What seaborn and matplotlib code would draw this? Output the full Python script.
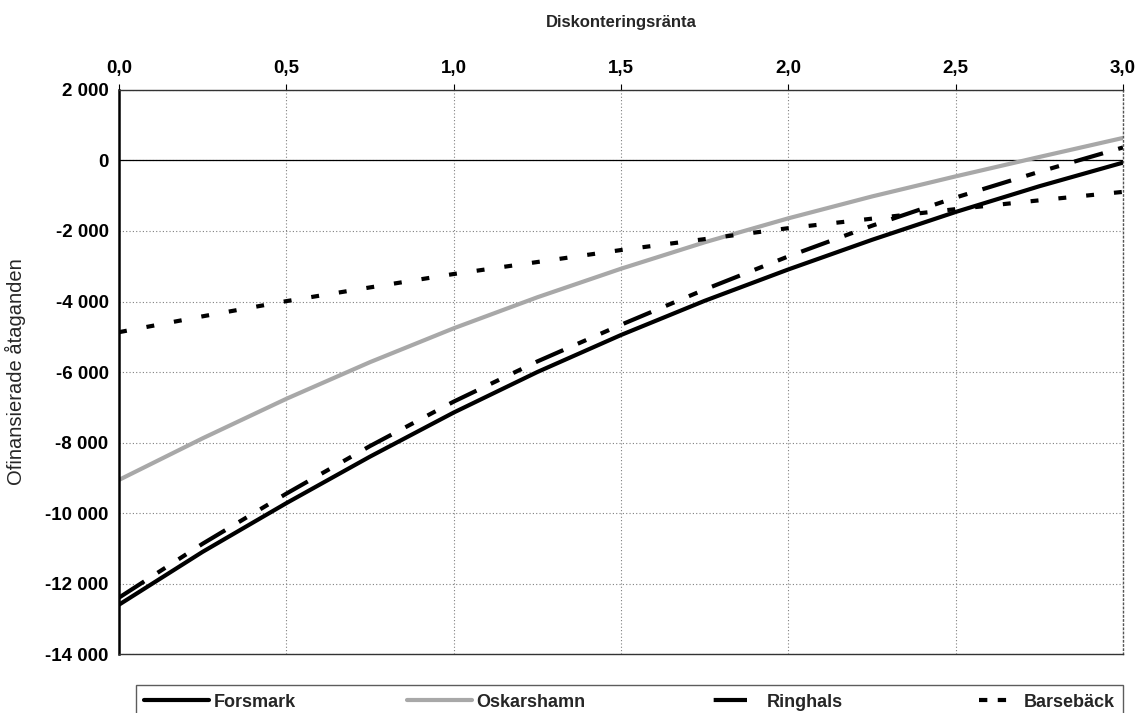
import numpy as np
import pandas as pd
import matplotlib
matplotlib.use("Agg")
import matplotlib.pyplot as plt
import seaborn as sns
from matplotlib.ticker import FuncFormatter, MultipleLocator
from matplotlib.lines import Line2D

# discount rate (x) and unfunded commitments per plant (y)
ranta = [0.0, 0.25, 0.5, 0.75, 1.0, 1.25, 1.5, 1.75, 2.0, 2.25, 2.5, 2.75, 3.0]
forsmark = [-12600, -11100, -9720, -8400, -7150, -6000, -4950, -3980, -3090, -2250, -1460, -730, -60]
oskarshamn = [-9060, -7880, -6760, -5720, -4760, -3880, -3070, -2320, -1640, -1020, -450, 100, 640]
ringhals = [-12400, -10870, -9450, -8100, -6840, -5700, -4660, -3660, -2720, -1850, -1050, -320, 370]
barseback = [-4870, -4420, -3990, -3600, -3220, -2880, -2540, -2230, -1920, -1650, -1380, -1130, -890]

plants = ['Forsmark', 'Oskarshamn', 'Ringhals', 'Barsebäck']

df = pd.DataFrame({'ranta': ranta * 4,
                   'value': forsmark + oskarshamn + ringhals + barseback,
                   'plant': [p for p in plants for _ in ranta]})

sns.set_style("white")
plt.rcParams['font.family'] = ['Liberation Sans', 'DejaVu Sans']

grey = '#a8a8a8'
palette = {'Forsmark': 'black', 'Oskarshamn': grey,
           'Ringhals': 'black', 'Barsebäck': 'black'}
dashes = {'Forsmark': '', 'Oskarshamn': '',
          'Ringhals': (7.2, 3.8, 2.2, 3.8, 2.2, 3.8),
          'Barsebäck': (1.9, 4.8)}

fig = plt.figure(figsize=(11.39, 7.13), dpi=100)
ax = fig.add_axes([0.1045, 0.0827, 0.8815, 0.7911])

sns.lineplot(data=df, x='ranta', y='value', hue='plant', style='plant',
             palette=palette, dashes=dashes, linewidth=3, legend=False,
             ax=ax, sort=False)

ax.set_xlim(0, 3)
ax.set_ylim(-14000, 2000)
ax.xaxis.set_major_locator(MultipleLocator(0.5))
ax.yaxis.set_major_locator(MultipleLocator(2000))
ax.xaxis.set_major_formatter(FuncFormatter(lambda v, p: f"{v:.1f}".replace('.', ',')))
ax.yaxis.set_major_formatter(FuncFormatter(lambda v, p: f"{int(round(v)):,}".replace(',', ' ')))
ax.xaxis.tick_top()
ax.xaxis.set_label_position('top')
ax.tick_params(axis='both', labelsize=13.5, length=4, width=0.8, direction='out',
               colors='black')
ax.tick_params(axis='x', pad=5)
for lab in ax.get_xticklabels() + ax.get_yticklabels():
    lab.set_fontweight('bold')

ax.grid(True, color='#808080', linestyle=(0, (1, 2)), linewidth=0.8)
ax.axhline(0, color='black', linewidth=0.9, zorder=1)

ax.set_xlabel('Diskonteringsränta', fontsize=12, fontweight='bold')
ax.set_ylabel('Ofinansierade åtaganden', fontsize=14.5)
ax.xaxis.set_label_coords(0.5, 1.112)
ax.yaxis.set_label_coords(-0.0925, 0.5)

ax.spines['left'].set_color('black')
ax.spines['left'].set_linewidth(1.8)
for s in ['top', 'bottom']:
    ax.spines[s].set_color('#333333')
    ax.spines[s].set_linewidth(1.0)
ax.spines['right'].set_color('#555555')
ax.spines['right'].set_linestyle((0, (1, 2)))
ax.spines['right'].set_linewidth(1.0)

# legend handles mimic the Excel legend: long line, short dash, two short dashes
handles = [
    Line2D([], [], color='black', lw=3),
    Line2D([], [], color=grey, lw=3),
    Line2D([], [], color='black', lw=3, linestyle=(9.0, (8.0, 5.0))),
    Line2D([], [], color='black', lw=3, linestyle=(9.5, (2.0, 2.5, 2.0, 9.0))),
]
leg = fig.legend(handles, plants, loc='lower left',
                 bbox_to_anchor=(136 / 1139, -0.008, (1123 - 136) / 1139, 0.053),
                 mode='expand', ncol=4, frameon=True, fancybox=False,
                 edgecolor='#333333', handlelength=3.6, handletextpad=0.25,
                 prop={'size': 13, 'weight': 'bold'}, borderaxespad=0,
                 borderpad=0.45)
leg.get_frame().set_linewidth(1.0)

fig.savefig('out.png', dpi=100)
